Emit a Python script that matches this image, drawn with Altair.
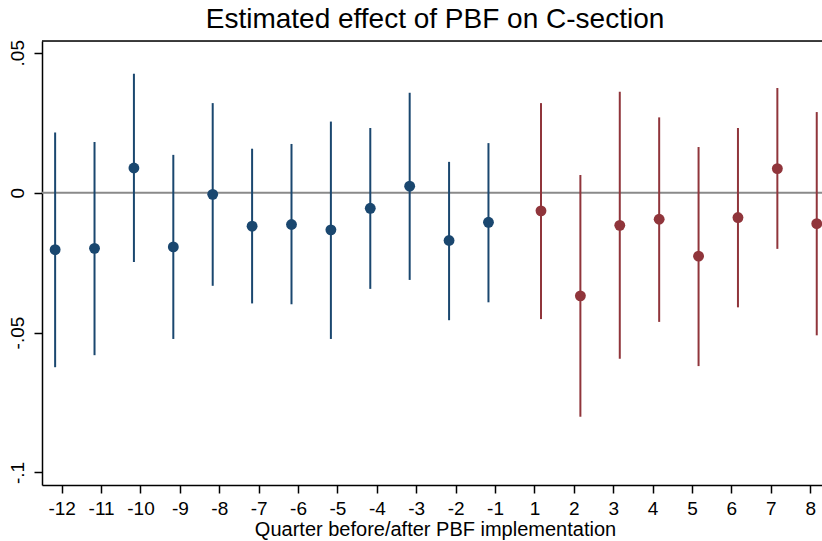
import altair as alt
import pandas as pd

# Quarter labels (category order on the axis)
quarters = ["-12", "-11", "-10", "-9", "-8", "-7", "-6", "-5", "-4", "-3", "-2", "-1",
            "1", "2", "3", "4", "5", "6", "7", "8"]

# Pre-implementation (blue) estimates
pre_est = [-0.0204, -0.0199, 0.0088, -0.0194, -0.0006, -0.0120, -0.0114, -0.0133,
           -0.0056, 0.0023, -0.0171, -0.0106]
pre_hi = [0.0215, 0.0181, 0.0425, 0.0135, 0.0320, 0.0157, 0.0174, 0.0254,
          0.0231, 0.0357, 0.0110, 0.0177]
pre_lo = [-0.0624, -0.0581, -0.0248, -0.0523, -0.0333, -0.0396, -0.0399, -0.0523,
          -0.0344, -0.0312, -0.0456, -0.0392]

# Post-implementation (red) estimates
post_est = [-0.0065, -0.0369, -0.0117, -0.0095, -0.0227, -0.0089, 0.0086, -0.0111]
post_hi = [0.0320, 0.0063, 0.0361, 0.0269, 0.0163, 0.0231, 0.0374, 0.0288]
post_lo = [-0.0452, -0.0801, -0.0594, -0.0462, -0.0620, -0.0410, -0.0201, -0.0510]

y_tick_values = [-0.1, -0.05, 0, 0.05]
y_tick_labels = ["-.1", "-.05", "0", ".05"]

BLUE = "#1a476f"
RED = "#90353b"
DODGE = 1.0 / 6.0  # coefplot offset for two plots

rows = []
for i, q in enumerate(quarters[:12]):
    rows.append({"quarter": q, "pos": i + 1 - DODGE, "est": pre_est[i],
                 "lo": pre_lo[i], "hi": pre_hi[i], "grp": "pre"})
for j, q in enumerate(quarters[12:]):
    rows.append({"quarter": q, "pos": 13 + j + DODGE, "est": post_est[j],
                 "lo": post_lo[j], "hi": post_hi[j], "grp": "post"})
df = pd.DataFrame(rows)

W, H = 780, 444
xdom = [0.5, 20.3]
ydom = [-0.1045, 0.0542]

x_label_expr = "[" + ",".join("'%s'" % q for q in quarters) + "][datum.value - 1]"
y_label_expr = " : ".join(
    "abs(datum.value - (%s)) < 1e-9 ? '%s'" % (v, l) for v, l in zip(y_tick_values, y_tick_labels)
) + " : ''"

xscale = alt.Scale(domain=xdom, nice=False, zero=False)
yscale = alt.Scale(domain=ydom, nice=False, zero=False)

x_axis = alt.Axis(values=list(range(1, 21)), labelExpr=x_label_expr, grid=False,
                  tickSize=8, tickColor="black", tickWidth=1.5,
                  domainColor="black", domainWidth=1.5,
                  labelFont="Liberation Sans", labelFontSize=19, labelColor="black",
                  labelPadding=6, labelFlush=False, labelOverlap=False,
                  title="Quarter before/after PBF implementation",
                  titleFont="Liberation Sans", titleFontSize=20, titleFontWeight="normal",
                  titleColor="black", titleX=393, titleY=50, titleAlign="center",
                  titleBaseline="alphabetic", titleAnchor="start")
y_axis = alt.Axis(values=y_tick_values, labelExpr=y_label_expr, grid=False,
                  tickSize=8, tickColor="black", tickWidth=1.5,
                  domainColor="black", domainWidth=1.5,
                  labelFont="Liberation Sans", labelFontSize=19, labelColor="black",
                  labelAngle=270, labelAlign="center", labelBaseline="bottom",
                  labelPadding=7, labelFlush=False, labelOverlap=False, title=None)

color_scale = alt.Scale(domain=["pre", "post"], range=[BLUE, RED])

base = alt.Chart(df)

bars = base.mark_rule(strokeWidth=2).encode(
    x=alt.X("pos:Q", scale=xscale, axis=x_axis),
    y=alt.Y("lo:Q", scale=yscale, axis=y_axis),
    y2="hi:Q",
    color=alt.Color("grp:N", scale=color_scale, legend=None),
)

pts = base.mark_circle(size=118, opacity=1).encode(
    x=alt.X("pos:Q", scale=xscale),
    y=alt.Y("est:Q", scale=yscale),
    color=alt.Color("grp:N", scale=color_scale, legend=None),
)

zero = alt.Chart(pd.DataFrame({"z": [0]})).mark_rule(color="#8a8a8a", strokeWidth=2).encode(
    y=alt.Y("z:Q", scale=yscale)
)

top_border = alt.Chart(pd.DataFrame({"z": [0]})).mark_rule(color="black", strokeWidth=1.5).encode(
    x=alt.value(0), x2=alt.value(W), y=alt.value(0)
)

chart = alt.layer(zero, bars, pts, top_border).properties(
    width=W, height=H,
    title=alt.TitleParams("Estimated effect of PBF on C-section", font="Liberation Sans",
                          fontSize=28, fontWeight="normal", color="black",
                          anchor="middle", offset=6, dx=3),
    autosize=alt.AutoSizeParams(type="none"),
    padding={"left": 42, "top": 41, "right": 0, "bottom": 56},
).configure_view(stroke=None).configure(background="white")

chart.save("out.html", embed_options={"renderer": "svg", "actions": False})
